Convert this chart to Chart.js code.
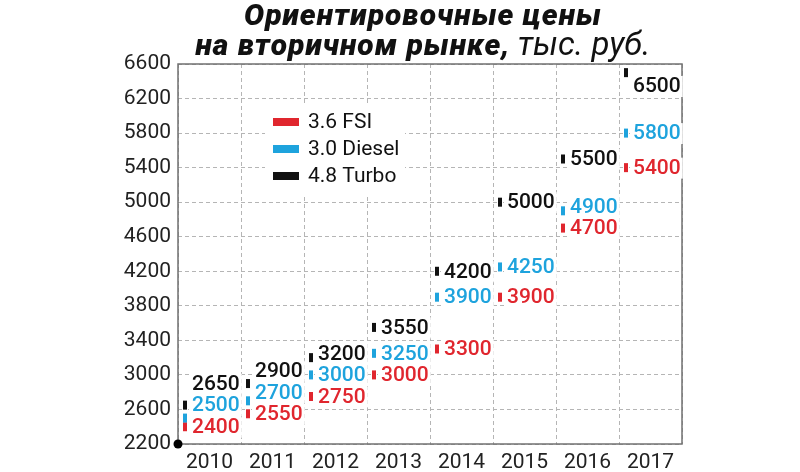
<!DOCTYPE html>
<html>
<head>
<meta charset="utf-8">
<script src="https://cdn.jsdelivr.net/npm/chart.js@4.4.0/dist/chart.umd.min.js"></script>
<style>
  body { margin: 0; background: #fff; }
  #wrap { position: relative; width: 800px; height: 472px; }
  #title {
    position: absolute; left: 46px; right: 0; top: 0px;
    text-align: center; font-family: Roboto, sans-serif;
    font-size: 30px; line-height: 29px; color: #111;
  }
  #title b { font-weight: 900; font-style: italic; letter-spacing: 1px; }
  #title i { font-weight: 400; font-style: italic; font-size: 33px; }
</style>
</head>
<body>
<div id="wrap">
  <canvas id="myChart" width="800" height="472"></canvas>
  <div id="title"><b>Ориентировочные цены</b><br><b>на вторичном рынке,</b> <i>тыс. руб.</i></div>
</div>
<script>
// DATA
const years = ["2010", "2011", "2012", "2013", "2014", "2015", "2016", "2017"];
const fsi = [2400, 2550, 2750, 3000, 3300, 3900, 4700, 5400];
const diesel = [2500, 2700, 3000, 3250, 3900, 4250, 4900, 5800];
const turbo = [2650, 2900, 3200, 3550, 4200, 5000, 5500, 6500];
const seriesNames = ["3.6 FSI", "3.0 Diesel", "4.8 Turbo"];
const seriesColors = ["#e0262e", "#1ea3dd", "#111111"];
const yMin = 2200, yMax = 6600, yStep = 400;

const FONT = "Roboto, sans-serif";

// markers + value labels, placed at the left of every year column
const markerPlugin = {
  id: "markers",
  beforeDatasetsDraw(chart) {
    const { ctx, chartArea: a } = chart;
    ctx.save();
    ctx.strokeStyle = "#707070";
    ctx.lineWidth = 1.5;
    ctx.strokeRect(a.left, a.top, a.right - a.left, a.bottom - a.top);
    ctx.restore();
  },
  afterDatasetsDraw(chart) {
    const { ctx, chartArea: a } = chart;
    const xs = chart.scales.x;
    const colW = xs.width / years.length;
    ctx.save();
    ctx.font = "500 21px " + FONT;
    ctx.textBaseline = "middle";
    let all = [];
    for (let i = 0; i < years.length; i++) {
      let items = chart.data.datasets.map((ds, d) => {
        const p = chart.getDatasetMeta(d).data[i];
        return { y: p.y, x: p.x, color: seriesColors[d], v: ds.data[i] };
      });
      items.sort((p, q) => q.y - p.y); // bottom first
      let prev = null;
      items.forEach((it) => {
        let ly = it.y;
        if (prev !== null) ly = Math.min(ly, prev - 21.5);
        it.ly = ly;
        prev = ly;
      });
      // keep top label inside the plot
      let top = items[items.length - 1];
      if (top.ly < a.top + 22) top.ly = a.top + 22;
      items.forEach((it) => {
        it.left = it.x - colW / 2 + 5;
        it.txt = String(it.v);
        it.w = ctx.measureText(it.txt).width;
        all.push(it);
      });
    }
    // white boxes first, so they only hide grid lines
    ctx.fillStyle = "#fff";
    all.forEach((it) => {
      ctx.fillRect(it.left - 1, it.y - 6, 6, 12);
      ctx.fillRect(it.left + 7, it.ly - 10, it.w + 4, 21);
    });
    all.forEach((it) => {
      ctx.fillStyle = it.color;
      ctx.fillRect(it.left, it.y - 4.5, 4, 9);
      ctx.fillText(it.txt, it.left + 9, it.ly + 1);
    });
    // legend
    const lx = a.left + 87, ly = a.top + 44;
    ctx.fillStyle = "#fff";
    ctx.fillRect(lx, ly - 2, 140, 88);
    ctx.font = "400 21px " + FONT;
    seriesNames.forEach((n, d) => {
      const y = ly + 14 + d * 27;
      ctx.fillStyle = seriesColors[d];
      ctx.fillRect(lx + 8, y - 4, 26, 8);
      ctx.fillStyle = "#111";
      ctx.fillText(n, lx + 43, y + 1);
    });
    // origin dot
    ctx.fillStyle = "#000";
    ctx.beginPath();
    ctx.arc(a.left, a.bottom, 4.5, 0, Math.PI * 2);
    ctx.fill();
    ctx.restore();
  },
};

const ctx = document.getElementById("myChart").getContext("2d");
const myChart = new Chart(ctx, {
  type: "line",
  data: {
    labels: years,
    datasets: [fsi, diesel, turbo].map((vals, d) => ({
      label: seriesNames[d],
      data: vals,
      showLine: false,
      pointRadius: 0,
      borderColor: seriesColors[d],
      backgroundColor: seriesColors[d],
    })),
  },
  options: {
    responsive: false,
    animation: false,
    layout: { padding: { top: 64, right: 118, left: 0, bottom: 0 } },
    plugins: { legend: { display: false }, tooltip: { enabled: false } },
    scales: {
      x: {
        offset: true,
        grid: { offset: true, color: "#b5b5b5", drawTicks: false, borderDash: [4, 3] },
        border: { display: false, dash: [4, 3] },
        ticks: { color: "#222", font: { family: FONT, size: 21 }, padding: 6 },
        afterFit: (s) => { s.height = 28; },
      },
      y: {
        min: yMin,
        max: yMax,
        ticks: {
          stepSize: yStep, color: "#222", font: { family: FONT, size: 21 }, padding: 7,
          callback: (v) => String(v),
        },
        grid: { color: "#b5b5b5", drawTicks: false, borderDash: [4, 3] },
        border: { display: false, dash: [4, 3] },
        afterFit: (s) => { s.width = 178; },
      },
    },
  },
  plugins: [markerPlugin],
});
</script>
</body>
</html>
